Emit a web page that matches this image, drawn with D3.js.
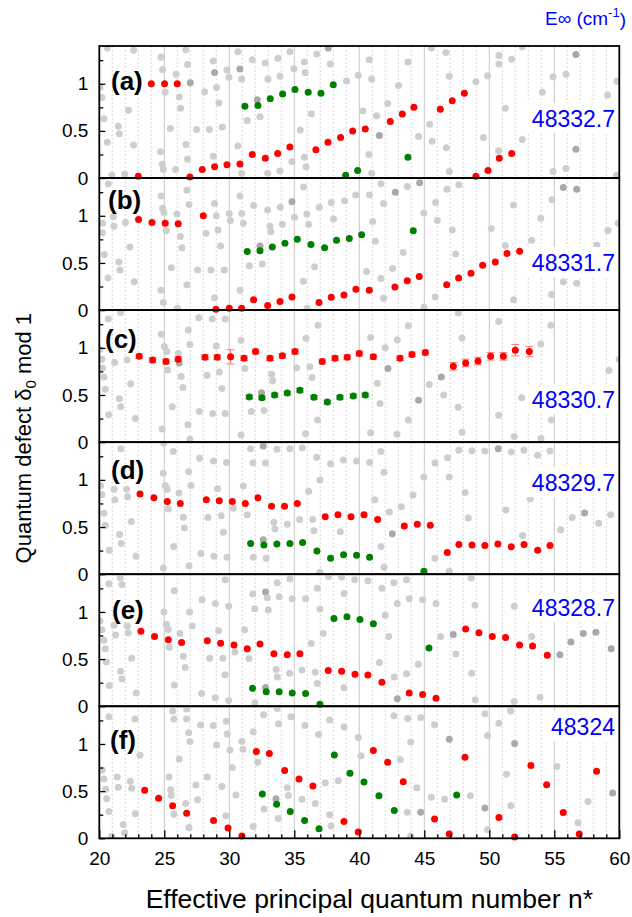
<!DOCTYPE html>
<meta charset="utf-8">
<style>
body { margin: 0; background: #fff; }
svg { font-family: Arial, "Liberation Sans", sans-serif; }
</style>
<svg width="632" height="917"></svg>
<script src="https://cdn.jsdelivr.net/npm/d3@7"></script>
<script>

// ---- data (n*, delta mod 1) ----
var panelLetters = ["(a)", "(b)", "(c)", "(d)", "(e)", "(f)"];
var energies = ["48332.7", "48331.7", "48330.7", "48329.7", "48328.7", "48324"];
var xTicks = [20, 25, 30, 35, 40, 45, 50, 55, 60];
var yTicks = [0, 0.5, 1];

var redA = [[23.0,0.02],[24.0,1.0],[25.02,1.0],[26.0,1.0],[26.97,0.01],[27.92,0.09],[28.87,0.12],[29.82,0.14],[30.82,0.15],[31.77,0.25],[32.77,0.21],[33.72,0.26],[34.66,0.33],[36.66,0.3],[37.59,0.38],[38.56,0.43],[39.49,0.5],[40.46,0.52],[42.38,0.6],[43.31,0.68],[44.2,0.75],[46.23,0.73],[47.15,0.82],[48.08,0.9],[48.97,0.02],[49.9,0.08],[50.77,0.21],[51.72,0.26]];
var greenA = [[31.2,0.76],[32.2,0.77],[33.15,0.84],[34.1,0.89],[35.05,0.94],[36.07,0.91],[37.05,0.9],[38.0,0.99],[38.95,0.03],[39.87,0.08],[43.74,0.22]];

var redB = [[23.02,0.96],[24.05,0.93],[25.07,0.92],[26.07,0.915],[28.0,1.0],[28.97,0.01],[30.0,0.02],[30.95,0.02],[31.87,0.11],[32.95,0.05],[33.9,0.09],[34.82,0.14],[36.9,0.08],[37.84,0.135],[38.82,0.16],[39.74,0.22],[40.77,0.21],[42.74,0.245],[43.69,0.31],[44.61,0.355],[46.72,0.27],[47.64,0.34],[48.59,0.39],[49.49,0.475],[50.46,0.51],[51.36,0.6],[52.33,0.625]];
var greenB = [[31.38,0.62],[32.36,0.63],[33.31,0.67],[34.28,0.71],[35.23,0.75],[36.28,0.695],[37.33,0.66],[38.25,0.74],[39.23,0.76],[40.18,0.8],[44.15,0.84]];

// third value: error bar half-width
var redC = [[23.07,0.91,0.025],[24.1,0.87,0.025],[25.13,0.855,0.025],[26.07,0.88,0.025],[28.13,0.9,0.025],[29.07,0.9,0.025],[30.1,0.905,0.075],[31.13,0.89,0.025],[32.02,0.96,0.025],[33.13,0.89,0.025],[34.08,0.915,0.025],[35.05,0.96,0.025],[37.15,0.855,0.025],[38.13,0.89,0.025],[39.07,0.9,0.025],[40.0,0.94,0.025],[41.08,0.905,0.025],[43.13,0.89,0.025],[44.05,0.93,0.025],[45.08,0.95,0.025],[47.23,0.805,0.04],[48.18,0.84,0.04],[49.13,0.86,0.04],[50.1,0.91,0.04],[51.08,0.91,0.04],[52.0,0.975,0.06],[53.08,0.96,0.055]];
var greenC = [[31.54,0.48,0.02],[32.51,0.47,0.02],[33.49,0.5,0.02],[34.46,0.52,0.02],[35.43,0.55,0.02],[36.51,0.475,0.02],[37.54,0.425,0.02],[38.51,0.475,0.02],[39.54,0.49,0.02],[40.46,0.5,0.02]];

var redD = [[23.13,0.85],[24.2,0.81],[25.23,0.77],[26.23,0.75],[28.23,0.79],[29.23,0.78],[30.23,0.77],[31.23,0.75],[32.2,0.81],[33.25,0.72],[34.25,0.72],[35.23,0.75],[37.38,0.61],[38.36,0.63],[39.36,0.61],[40.36,0.63],[41.41,0.58],[43.46,0.51],[44.46,0.53],[45.46,0.52],[46.77,0.23],[47.66,0.315],[48.67,0.31],[49.66,0.305],[50.66,0.32],[51.69,0.29],[52.67,0.315],[53.72,0.255],[54.67,0.305]];
var greenD = [[31.64,0.325],[32.66,0.31],[33.66,0.32],[34.66,0.325],[35.64,0.335],[36.74,0.245],[37.79,0.17],[38.79,0.205],[39.79,0.2],[40.79,0.18],[44.97,0.03]];

var redE = [[23.2,0.795],[24.25,0.74],[25.31,0.705],[26.33,0.675],[28.31,0.695],[29.33,0.667],[30.36,0.65],[31.38,0.61],[32.36,0.66],[33.43,0.557],[34.46,0.547],[35.43,0.557],[37.61,0.38],[38.64,0.37],[39.67,0.34],[40.66,0.33],[41.74,0.255],[43.84,0.14],[44.87,0.125],[45.9,0.085],[48.18,0.82],[49.2,0.78],[50.23,0.74],[51.25,0.73],[52.33,0.65],[53.33,0.64],[54.46,0.54]];
var greenE = [[31.79,0.19],[32.84,0.155],[33.84,0.155],[34.84,0.14],[35.87,0.135],[36.97,0.02],[38.05,0.93],[39.05,0.95],[40.05,0.92],[41.08,0.875],[45.36,0.617]];

var redF = [[23.49,0.51],[24.56,0.425],[25.64,0.345],[26.72,0.265],[28.79,0.19],[29.9,0.11],[30.97,0.025],[32.08,0.92],[33.08,0.9],[34.26,0.72],[35.36,0.63],[36.43,0.555],[38.82,0.177],[39.92,0.067],[41.08,0.93],[42.18,0.805],[43.38,0.6],[45.79,0.205],[46.92,0.046],[48.13,0.86],[50.74,0.22],[51.95,0.014],[53.2,0.773],[54.41,0.567],[55.69,0.273],[56.92,0.046],[58.25,0.71]];
var greenF = [[32.54,0.47],[33.64,0.36],[34.69,0.284],[35.79,0.19],[36.9,0.1],[38.08,0.883],[39.28,0.69],[40.36,0.596],[41.51,0.45],[42.69,0.294],[47.49,0.46]];

// background points of other limits; third value 1 = overlapping (darker)
var grayA = [[20.61,1.38],[22.64,1.355],[24.74,1.28],[26.66,1.36],[24.87,1.15],[25.9,1.1],[26.79,1.205],[27.0,1.01,1],[28.77,1.24],[28.87,1.12,1],[29.82,1.145],[30.82,1.155,1],[30.66,1.34],[31.77,1.255],[32.77,1.22],[33.74,1.27],[34.66,1.34],[35.77,1.23],[36.72,1.315],[37.61,1.38,1],[37.77,1.21],[39.02,1.03],[39.92,1.09],
[20.05,0.96],[20.2,0.855],[20.36,0.63],[22.25,0.72],[21.46,0.55],[21.54,0.47],[20.61,0.38],[22.64,0.35],[25.07,0.91],[26.15,0.86],[26.25,0.74],[25.46,0.525],[28.1,0.915],[29.02,0.96],[29.2,0.795],[27.49,0.515],[28.46,0.515],[29.46,0.54],[29.97,1.07],[30.95,1.05],[31.38,0.61],[32.15,0.83,1],[32.36,0.65],[32.97,1.05],[33.9,1.08],[34.97,1.16],[35.46,0.51],[35.84,1.12],[36.31,0.68],
[24.72,0.28],[26.66,0.355],[26.79,0.2],[24.84,0.145],[24.92,0.09],[25.87,0.09],[28.77,0.23],[30.66,0.34],[30.95,0.05],[32.95,0.05],[33.9,0.075],[34.82,0.175],[35.77,0.22],[35.9,0.12],[20.97,0.03],[21.95,0.04],
[40.77,1.255],[43.74,1.23],[46.66,1.33],[45.54,1.38],[40.95,1.05],[43.02,0.98],[46.92,1.08],[48.97,1.02],[49.87,1.085],[50.74,1.3],[50.74,1.21],[51.72,1.26],[52.54,1.39],[56.66,1.31,1],[54.9,1.075],[55.9,1.1],[54.08,0.91],[59.1,0.88],[59.82,1.025],
[40.28,0.71],[41.33,0.66],[42.18,0.79],[41.54,0.45,1],[44.56,0.44],[45.41,0.57],[45.61,0.39],[46.69,0.32],[49.54,0.43],[51.23,0.74],[52.54,0.41],[50.72,0.29],[40.74,0.25],[40.95,0.05],[46.92,0.07],[54.9,0.07],[55.9,0.1],[56.66,0.305,1],[59.79,0.03]];

var grayB = [[20.69,1.34],[24.77,1.21],[26.74,1.27],[26.9,1.12],[24.87,1.08],[24.97,1.035],[25.97,1.02],[25.15,0.84],[26.23,0.78],[26.36,0.66],[25.54,0.45],[28.87,1.13],[29.0,1.0],[29.13,0.85],[29.99,1.025],[30.08,0.95],[30.82,1.21],[30.95,1.025],[31.08,0.92],[31.87,1.11],[32.95,1.06],[33.92,1.09],[34.82,1.15,1],[35.02,0.985],[35.72,1.305],[35.97,1.02],[36.1,0.91],[36.92,1.09],[37.84,1.14],[38.02,0.965],[38.87,1.16],[39.72,1.22],
[20.23,0.82],[20.25,0.92],[20.38,0.59],[20.66,0.34],[21.13,0.89],[21.08,0.99],[22.02,0.93],[21.51,0.51],[21.59,0.425],[22.36,0.67],[22.69,0.3],[28.2,0.815],[27.56,0.425],[28.59,0.425],[29.33,0.68],[29.61,0.425],[32.36,0.68,1],[33.13,0.89],[33.2,0.83],[34.08,0.91],[31.54,0.47],[32.54,0.49],[36.56,0.46],[35.69,0.305],[24.74,0.21],[26.74,0.27],[24.92,0.08],[26.0,0.02],[28.87,0.13],[30.82,0.21],[35.99,0.02],
[41.66,1.34],[43.69,1.31],[44.64,1.35,1],[42.77,1.25,1],[40.79,1.22],[41.87,1.13],[46.74,1.28],[47.66,1.33],[45.87,1.14],[44.97,1.03],[46.0,0.95],[47.15,0.85],[41.02,0.94],[41.23,0.73],[43.38,0.61],[42.56,0.44],[40.56,0.41],[41.66,0.335],[41.87,0.125],[47.41,0.595],[50.15,0.865],[51.87,1.115],[51.23,0.685],[53.26,0.74],[53.96,0.975],[54.82,1.17],[55.69,1.3,1],[56.72,1.28,1],[58.28,0.69],[59.13,0.845],[59.92,0.92],[55.69,0.3],[56.72,0.285],[54.79,0.165],[51.87,0.11],[45.84,0.14],[44.97,0.03]];

var grayC = [[20.69,1.305],[21.64,1.375],[24.77,1.145],[25.0,1.015],[25.2,0.96],[26.08,0.94],[26.15,0.84,1],[26.84,1.19],[26.97,1.035],[27.66,1.32],[28.69,1.305],[29.69,1.305],[29.0,1.02],[30.9,1.08],
[20.05,0.985],[20.2,0.88],[20.25,0.785],[20.36,0.69],[20.46,0.56],[20.72,0.29],[21.18,0.845],[22.15,0.87],[21.54,0.46],[21.64,0.375],[22.41,0.62],[22.77,0.25],[25.25,0.765],[26.3,0.695],[26.43,0.58],[25.61,0.375],[28.28,0.71],[29.23,0.745],[29.43,0.57],[27.69,0.325],[28.72,0.305],[29.69,0.305],[31.2,0.78],[33.25,0.72],[33.33,0.65],[32.48,0.525,1],[32.67,0.335],[31.69,0.325],[35.18,0.79],[36.2,0.8],[36.36,0.685],[36.82,1.24],[35.9,1.1],[36.79,0.235],[35.87,0.09],[24.84,0.14],[26.82,0.185],[26.97,0.03],[30.9,0.075],
[40.87,1.11],[42.0,1.0],[42.92,1.085],[43.77,1.235],[42.2,0.78,1],[41.38,0.625],[41.59,0.41],[43.77,0.235],[44.56,0.445,1],[45.38,0.61],[46.31,0.69,1],[46.49,0.5],[47.61,0.37],[47.9,1.105],[47.61,1.37],[50.72,1.28],[50.72,0.285],[52.49,0.47],[53.95,1.04],[54.74,1.24],[54.77,0.235],[59.2,0.76],[59.99,0.88],[40.87,0.1],[42.9,0.085],[47.9,0.105],[51.92,0.06],[53.97,0.04]];

var grayD = [[21.66,1.33],[24.95,1.39],[25.69,1.3],[27.72,1.23],[28.79,1.2],[29.79,1.185],[24.92,1.07],[25.07,0.94],[25.23,0.9],[26.87,1.09],[27.05,0.94],[26.13,0.86],[26.46,0.605],[26.54,0.49],[25.72,0.295],[25.31,0.69],
[20.1,0.94],[20.2,0.845],[20.36,0.645],[20.46,0.52],[20.77,0.255],[21.13,0.9],[21.2,0.79],[22.1,0.9],[22.18,0.82],[21.56,0.42],[21.69,0.325],[22.46,0.56],[22.82,0.19],[28.36,0.6],[29.1,0.905],[29.38,0.62],[29.54,0.445],[30.31,0.7],[31.08,0.935],[31.38,0.63],[31.64,1.33],[31.82,1.18],[32.61,1.36,1],[32.79,1.18],[33.66,1.325],[34.66,1.33],[35.61,1.34],[36.1,0.88],[36.72,1.24],[36.97,1.0],[37.79,1.17],[38.77,1.21],[33.43,0.55],[33.51,0.48],[34.46,0.53],[35.41,0.58],[36.41,0.58],[36.51,0.46],[38.54,0.45],[32.61,0.365,1],[31.85,0.18],[32.84,0.17],[27.82,0.22],[28.82,0.19],[29.82,0.18],[26.9,0.09],[24.92,0.065],[36.97,0.02],
[39.79,1.2],[40.79,1.185],[41.66,1.3],[41.9,1.08],[44.97,1.03],[45.82,1.18],[46.79,1.235],[46.92,1.03],[47.66,1.315],[48.67,1.31],[49.66,1.305],[50.69,1.33,1],[51.69,1.295],[52.66,1.315],[53.72,1.26],[54.66,1.305],[48.13,0.865],[41.18,0.79],[42.31,0.66],[43.23,0.715],[44.13,0.84],[48.38,0.595],[51.28,0.68],[53.15,0.8],[42.54,0.43,1],[41.66,0.295],[41.9,0.075],[45.82,0.17],[46.92,0.03],[52.56,0.41],[55.49,0.47],[56.38,0.6],[57.33,0.65,1],[58.41,0.54],[59.33,0.63]];

var grayE = [[21.61,1.365],[21.74,1.29],[20.74,1.3],[25.77,1.225],[24.97,1.0],[25.15,0.87],[25.31,0.815],[26.2,0.77],[26.95,1.0],[27.15,0.85],[27.9,1.13],[28.92,1.09],[29.95,1.06],[29.69,1.34],
[20.05,0.905],[20.2,0.81],[20.36,0.7],[20.46,0.61],[20.54,0.47],[20.77,0.22],[21.13,0.86],[21.25,0.755],[22.15,0.85],[22.23,0.78],[21.64,0.37],[21.74,0.29],[22.49,0.51],[22.84,0.14],[25.38,0.625],[26.46,0.53],[26.61,0.41],[25.77,0.225],[28.49,0.51],[29.18,0.8],[29.51,0.51],[29.67,0.335],[30.43,0.575],[31.18,0.81],[31.51,0.505],[31.82,1.19],[31.95,1.035],[32.79,1.21,1],[32.92,1.15],[33.0,1.02],[33.69,1.31],[33.84,1.16],[34.66,1.35],[34.84,1.14],[35.87,1.14],[36.77,1.25],[36.97,1.03],[37.64,1.375],[38.64,1.37],[38.84,1.195],[39.64,1.34],[33.61,0.39],[33.69,0.31],[34.64,0.35],[35.59,0.385],[36.61,0.36],[36.77,0.24],[37.23,0.77],[36.3,0.665],[38.82,0.195],[32.79,0.2,1],[27.87,0.135],[28.92,0.09],[29.95,0.06],[31.97,0.035],
[40.66,1.33],[41.74,1.25],[42.66,1.31],[43.64,1.34],[48.6,1.36],[42.92,1.09],[43.84,1.14],[44.87,1.13],[45.9,1.09],[48.9,1.07],[51.92,1.06],[42.0,0.965],[42.26,0.74],[46.25,0.74],[47.23,0.76,1],[47.43,0.555],[53.26,0.74],[56.28,0.68,1],[57.23,0.77,1],[58.2,0.785,1],[59.38,0.61,1],[55.43,0.545,1],[41.54,0.465],[42.69,0.31],[43.64,0.345],[44.54,0.445],[48.64,0.35],[42.92,0.08,1],[48.92,0.07],[51.92,0.05],[53.9,0.095]];

var grayF = [[20.74,1.29],[22.74,1.265],[25.64,1.35],[25.74,1.265],[26.72,1.37],[26.72,1.265],[26.87,1.12],[27.79,1.2],[28.77,1.195],[29.77,1.24],[29.84,1.105],[29.02,0.99],[26.97,1.025],[30.97,1.03],[31.05,0.945],[30.05,0.935],[30.23,0.75],[31.84,1.13],[32.64,1.31],[33.69,1.375],[33.79,1.215],[34.74,1.29],[35.82,1.195],[36.87,1.1],[37.72,1.255],[38.82,1.18],[32.18,0.805],[23.13,0.88],[26.15,0.84],[25.36,0.65],[25.49,0.515],[25.54,0.455],[25.74,0.255],[27.43,0.565],[27.56,0.41],[26.64,0.37],[26.9,0.115],[28.3,0.65],[29.43,0.55],[30.51,0.46],[29.74,0.24],
[20.23,0.725],[20.36,0.63],[20.49,0.52],[20.56,0.42],[20.74,0.285],[21.38,0.65],[21.46,0.54],[22.38,0.605],[22.49,0.53],[22.77,0.26],[21.84,0.145],[21.95,0.06],[20.97,0.02],[31.84,0.125],[32.67,0.31],[33.59,0.42,1],[34.46,0.535],[34.54,0.455],[35.59,0.415],[36.61,0.37],[37.38,0.59],[38.38,0.61],[33.77,0.21],[37.72,0.25],[37.82,0.13],
[39.92,1.07],[40.13,0.875],[42.66,1.3],[43.72,1.27],[44.72,1.28],[45.79,1.205],[46.92,1.05,1],[49.66,1.32],[49.87,1.09],[50.74,1.22],[51.64,1.35],[51.95,1.005,1],[43.95,1.02],[43.15,0.835],[44.43,0.535],[45.54,0.435],[46.56,0.415],[48.54,0.45],[51.33,0.68],[51.66,0.345],[49.66,0.32,1],[43.69,0.275],[44.72,0.275,1],[55.2,0.76],[57.59,0.39],[59.49,0.48,1],[56.82,0.165],[49.87,0.09],[43.95,0.025]];

var reds = [redA, redB, redC, redD, redE, redF];
var greens = [greenA, greenB, greenC, greenD, greenE, greenF];
var grays = [grayA, grayB, grayC, grayD, grayE, grayF];

// label placement inside each panel (x, baseline offset from panel top)
var letterPos = [[111,44],[108,31],[105,38],[111,37],[112,45],[110,43]];
var energyDy = [81, 93, 98, 49, 42, 29];

var svg = d3.select("svg");

var left = 99.3, right = 619.3, plotTop = 46, panelH = 132.05;
var plotBottom = plotTop + 6 * panelH;
var r = 3.5;

var x = d3.scaleLinear().domain([20, 60]).range([left, right]);

// vertical grid through all panels
svg.append("g").selectAll("line")
    .data(d3.range(21, 60))
  .enter().append("line")
    .attr("x1", function(d) { return x(d); })
    .attr("x2", function(d) { return x(d); })
    .attr("y1", plotTop)
    .attr("y2", plotBottom)
    .attr("stroke", function(d) { return d % 5 == 0 ? "#c8c8c8" : "#cfcfcf"; })
    .attr("stroke-width", function(d) { return d % 5 == 0 ? 1 : 0.8; })
    .attr("stroke-dasharray", function(d) { return d % 5 == 0 ? null : "2,2"; });

var defs = svg.append("defs");

panelLetters.forEach(function(letter, i) {
  var y0 = plotTop + i * panelH, y1 = y0 + panelH;
  var y = d3.scaleLinear().domain([0, 1.4]).range([y1, y0]);
  var g = svg.append("g");

  defs.append("clipPath").attr("id", "clip" + i)
    .append("rect").attr("x", left).attr("y", y0).attr("width", right - left).attr("height", panelH);

  g.append("g").attr("clip-path", "url(#clip" + i + ")")
    .selectAll("circle")
    .data(grays[i])
  .enter().append("circle")
    .attr("cx", function(d) { return x(d[0]); })
    .attr("cy", function(d) { return y(d[1]); })
    .attr("r", r)
    .attr("fill", function(d) { return d[2] ? "#a9a9a9" : "#cecece"; });

  // error bars (only panel c has them)
  [[reds[i], "#ff7c7c"], [greens[i], "#5fae5f"]].forEach(function(s) {
    var eb = g.append("g").attr("stroke", s[1]).attr("stroke-width", 1);
    s[0].filter(function(d) { return d[2]; }).forEach(function(d) {
      var cx = x(d[0]), ya = y(d[1] - d[2]), yb = y(d[1] + d[2]);
      eb.append("line").attr("x1", cx).attr("x2", cx).attr("y1", ya).attr("y2", yb);
      eb.append("line").attr("x1", cx - 4).attr("x2", cx + 4).attr("y1", ya).attr("y2", ya);
      eb.append("line").attr("x1", cx - 4).attr("x2", cx + 4).attr("y1", yb).attr("y2", yb);
    });
  });

  g.append("g").selectAll("circle")
    .data(reds[i])
  .enter().append("circle")
    .attr("cx", function(d) { return x(d[0]); })
    .attr("cy", function(d) { return y(d[1]); })
    .attr("r", r)
    .attr("fill", "#ff0000");

  g.append("g").selectAll("circle")
    .data(greens[i])
  .enter().append("circle")
    .attr("cx", function(d) { return x(d[0]); })
    .attr("cy", function(d) { return y(d[1]); })
    .attr("r", r)
    .attr("fill", "#008000");

  // energy label with white box
  var et = g.append("text")
      .attr("x", 615)
      .attr("y", y0 + energyDy[i])
      .attr("text-anchor", "end")
      .attr("font-size", 23)
      .attr("fill", "#0000ff")
      .text(energies[i]);
  var bb = et.node().getBBox();
  g.insert("rect", function() { return et.node(); })
      .attr("x", bb.x - 6).attr("y", bb.y - 3)
      .attr("width", bb.width + 8).attr("height", bb.height + 4)
      .attr("fill", "#fff");

  g.append("text")
      .attr("x", letterPos[i][0])
      .attr("y", y0 + letterPos[i][1])
      .attr("font-size", 26)
      .attr("font-weight", "bold")
      .text(letter);

  // y axis
  var ya = g.append("g")
      .attr("transform", "translate(" + left + ",0)")
      .call(d3.axisLeft(y).tickValues(yTicks).tickSize(-6).tickPadding(11).tickFormat(d3.format("")));
  ya.select(".domain").remove();
  ya.attr("font-size", 19).attr("font-family", null);
  ya.selectAll("line").attr("stroke-width", 1.3);

  var ym = g.append("g")
      .attr("transform", "translate(" + left + ",0)")
      .call(d3.axisLeft(y).tickValues([0.25, 0.75, 1.25]).tickSize(-4).tickFormat(""));
  ym.select(".domain").remove();
  ym.selectAll("line").attr("stroke-width", 1.3);

  g.append("rect")
      .attr("x", left).attr("y", y0)
      .attr("width", right - left).attr("height", panelH)
      .attr("fill", "none")
      .attr("stroke", "#000")
      .attr("stroke-width", 1.8);
});

// x axis
var xa = svg.append("g")
    .attr("transform", "translate(0," + plotBottom + ")")
    .call(d3.axisBottom(x).tickValues(xTicks).tickSize(-8).tickPadding(13).tickFormat(d3.format("d")));
xa.select(".domain").remove();
xa.attr("font-size", 19).attr("font-family", null);
xa.selectAll("line").attr("stroke-width", 1.3);

var xm = svg.append("g")
    .attr("transform", "translate(0," + plotBottom + ")")
    .call(d3.axisBottom(x).tickValues(d3.range(21, 60).filter(function(d) { return d % 5; })).tickSize(-4).tickFormat(""));
xm.select(".domain").remove();
xm.selectAll("line").attr("stroke-width", 1.3);

svg.append("text")
    .attr("x", (left + right) / 2 + 10)
    .attr("y", 908)
    .attr("text-anchor", "middle")
    .attr("font-size", 26.5)
    .text("Effective principal quantum number n*");

var yt = svg.append("text")
    .attr("transform", "translate(31," + ((plotTop + plotBottom) / 2 - 4) + ") rotate(-90)")
    .attr("text-anchor", "middle")
    .attr("font-size", 22);
yt.append("tspan").text("Quantum defect \u03b4");
yt.append("tspan").attr("font-size", 15).attr("dy", "0.3em").text("0");
yt.append("tspan").attr("dy", "-0.2em").text(" mod 1");

var et = svg.append("text")
    .attr("x", 626)
    .attr("y", 25)
    .attr("text-anchor", "end")
    .attr("font-size", 19)
    .attr("fill", "#0000ff");
et.append("tspan").text("E\u221e (cm");
et.append("tspan").attr("font-size", 13).attr("dy", "-0.6em").text("-1");
et.append("tspan").attr("dy", "0.45em").text(")");

</script>
